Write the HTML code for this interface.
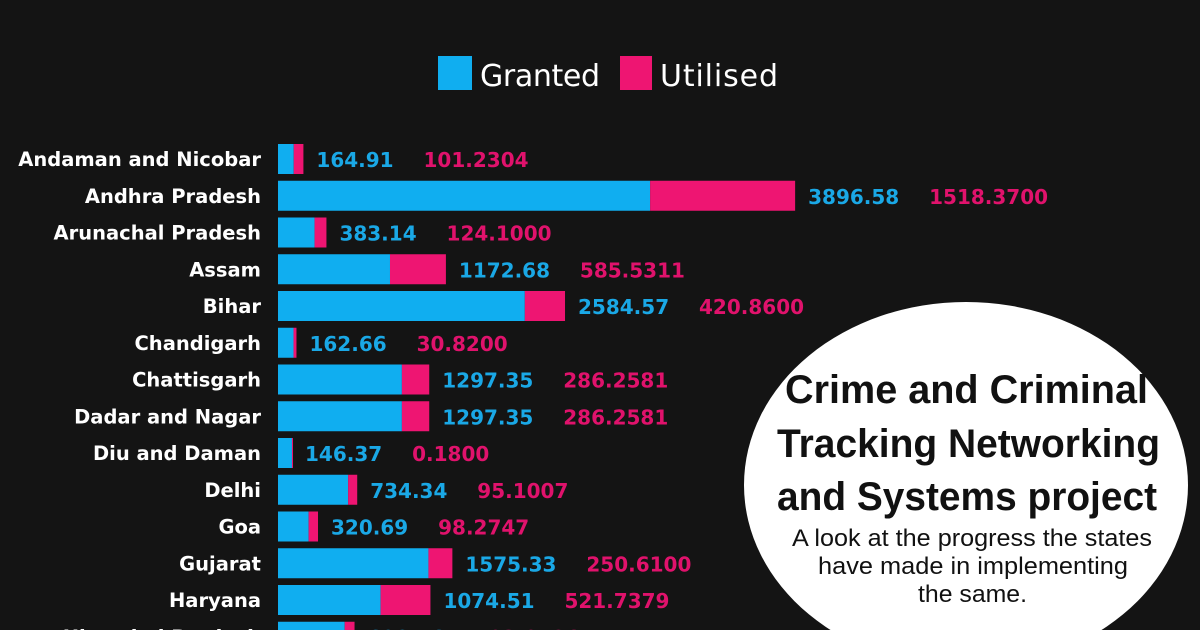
<!DOCTYPE html>
<html><head><meta charset="utf-8"><style>
html,body{margin:0;padding:0;background:#141414;width:1200px;height:630px;overflow:hidden;}
svg{display:block}
</style></head><body>
<svg id="s" width="1200" height="630" viewBox="0 0 1200 630" xmlns="http://www.w3.org/2000/svg">
<rect width="1200" height="630" fill="#141414"/>
<rect x="438" y="56" width="34" height="34" fill="#10aef0"/>
<text x="480" y="86" font-family="DejaVu Sans, sans-serif" font-size="30" fill="#fff" textLength="120">Granted</text>
<rect x="620" y="56" width="32" height="34" fill="#ee1572"/>
<text x="660" y="86" font-family="DejaVu Sans, sans-serif" font-size="30" fill="#fff" textLength="118">Utilised</text>
<g id="rows"></g>
<ellipse cx="966" cy="485" rx="222" ry="183" fill="#fff"/>
<g font-family="'Liberation Sans Narrow','Liberation Sans',sans-serif" font-weight="bold" fill="#111" font-size="40">
<text x="785" y="403" textLength="363" lengthAdjust="spacingAndGlyphs">Crime and Criminal</text>
<text x="777" y="457" textLength="383" lengthAdjust="spacingAndGlyphs">Tracking Networking</text>
<text x="777" y="510" textLength="380" lengthAdjust="spacingAndGlyphs">and Systems project</text>
</g>
<g font-family="'Liberation Sans Narrow','Liberation Sans',sans-serif" fill="#111" font-size="24">
<text x="792" y="546" textLength="360" lengthAdjust="spacingAndGlyphs">A look at the progress the states</text>
<text x="818" y="574" textLength="310" lengthAdjust="spacingAndGlyphs">have made in implementing</text>
<text x="918" y="602" textLength="109" lengthAdjust="spacingAndGlyphs">the same.</text>
</g>
</svg>
<script>
var d=[["Andaman and Nicobar",164.91,101.2304,"164.91","101.2304"],
["Andhra Pradesh",3896.58,1518.37,"3896.58","1518.3700"],
["Arunachal Pradesh",383.14,124.1,"383.14","124.1000"],
["Assam",1172.68,585.5311,"1172.68","585.5311"],
["Bihar",2584.57,420.86,"2584.57","420.8600"],
["Chandigarh",162.66,30.82,"162.66","30.8200"],
["Chattisgarh",1297.35,286.2581,"1297.35","286.2581"],
["Dadar and Nagar",1297.35,286.2581,"1297.35","286.2581"],
["Diu and Daman",146.37,0.18,"146.37","0.1800"],
["Delhi",734.34,95.1007,"734.34","95.1007"],
["Goa",320.69,98.2747,"320.69","98.2747"],
["Gujarat",1575.33,250.61,"1575.33","250.6100"],
["Haryana",1074.51,521.7379,"1074.51","521.7379"],
["Himachal Pradesh",698.46,103.0126,"698.46","103.0126"]];
var g=document.getElementById('rows'),h='',k=0.0955,x0=278;
function w(s){var n=0;for(var c of s)n+=(c=='.'?7.6:13.9);return n;}
d.forEach(function(r,i){
 var cy=159+i*36.75,y=cy-15;
 var bw=r[1]*k,pw=r[2]*k,end=x0+bw+pw;
 h+='<rect x="'+x0+'" y="'+y+'" width="'+bw+'" height="30" fill="#10aef0"/>';
 h+='<rect x="'+(x0+bw)+'" y="'+y+'" width="'+Math.max(pw,1)+'" height="30" fill="#ee1572"/>';
 h+='<text x="261" y="'+(cy+7)+'" text-anchor="end" font-family="DejaVu Sans,sans-serif" font-weight="bold" font-size="19.5" fill="#fff">'+r[0]+'</text>';
 var bx=end+13;
 h+='<text x="'+bx+'" y="'+(cy+8)+'" font-family="DejaVu Sans,sans-serif" font-weight="bold" font-size="20" fill="#1aa8e6">'+r[3]+'</text>';
 h+='<text x="'+(bx+w(r[3])+30)+'" y="'+(cy+8)+'" font-family="DejaVu Sans,sans-serif" font-weight="bold" font-size="20" fill="#e0126c">'+r[4]+'</text>';
});
g.innerHTML=h;
</script>
</body></html>
